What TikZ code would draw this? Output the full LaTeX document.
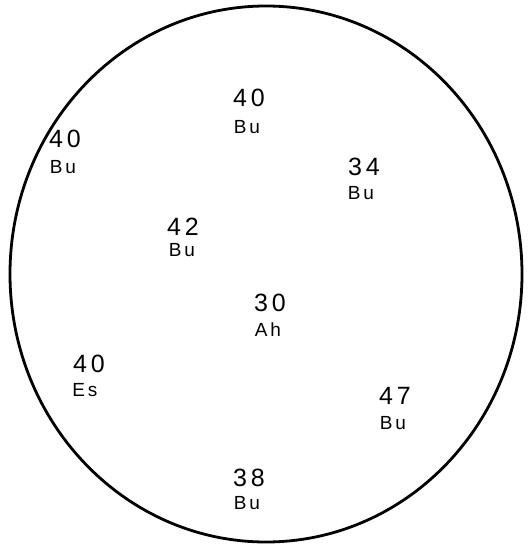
\documentclass[tikz,border=0pt]{standalone}
\usepackage{fontspec}
\setmainfont{Liberation Sans}
\newfontfamily\numfont[LetterSpace=15]{Liberation Sans}
\newfontfamily\labfont[LetterSpace=15]{Liberation Sans}
\begin{document}
\begin{tikzpicture}[x=1pt,y=-1pt,
  num/.style={font=\numfont\fontsize{25}{25}\selectfont, inner sep=0pt, anchor=center},
  lab/.style={font=\labfont\fontsize{19}{19}\selectfont, inner sep=0pt, anchor=center}]
\useasboundingbox (0,0) rectangle (529,547);
\draw[line width=2.8pt] (266,274) ellipse [x radius=256, y radius=268];
\node[num] (n1) at (249,98) {40};  \node[lab] (l1) at (247,127) {Bu};
\node[num] (n2) at (65,139) {40};  \node[lab] (l2) at (63,167) {Bu};
\node[num] (n3) at (364,167) {34}; \node[lab] (l3) at (361,193) {Bu};
\node[num] (n4) at (183,227) {42}; \node[lab] (l4) at (182,250) {Bu};
\node[num] (n5) at (270,303) {30}; \node[lab] (l5) at (268,330) {Ah};
\node[num] (n6) at (89,364) {40};  \node[lab] (l6) at (85,390) {Es};
\node[num] (n7) at (395,396) {47}; \node[lab] (l7) at (393,423) {Bu};
\node[num] (n8) at (249,478) {38}; \node[lab] (l8) at (247,503) {Bu};
\end{tikzpicture}
\end{document}
